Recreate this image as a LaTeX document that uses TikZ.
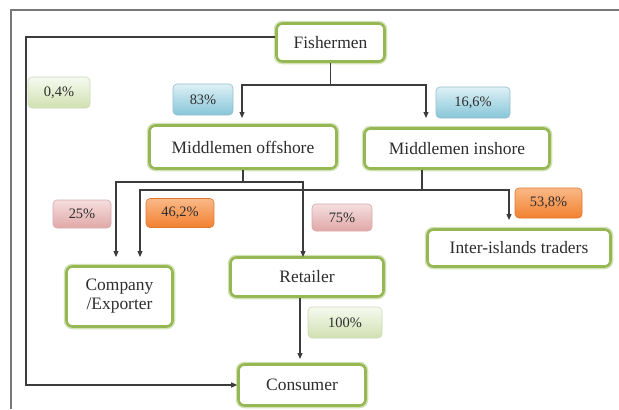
\documentclass[tikz,border=0pt]{standalone}
\usepackage{fontspec}
\setmainfont{Liberation Serif}
\usetikzlibrary{arrows.meta,calc}
\definecolor{gborder}{RGB}{150,184,84}
\definecolor{glow}{RGB}{212,226,184}
\definecolor{txt}{RGB}{45,45,45}
\definecolor{lc}{RGB}{60,60,60}
\definecolor{frame}{RGB}{120,120,120}
\begin{document}
\begin{tikzpicture}[x=1bp,y=-1bp,
  box/.style={draw=gborder, line width=2.6bp, rounded corners=6bp, fill=white, inner sep=0pt,
    font=\fontsize{17.5}{19}\selectfont, text=txt, align=center,
    preaction={draw=glow, line width=5.5bp}},
  pct/.style={rounded corners=4bp, inner sep=0pt, line width=0.6bp,
    font=\fontsize{14.5}{16}\selectfont, text=txt},
  pgreen/.style={pct, top color={rgb,255:red,246;green,250;blue,240}, bottom color={rgb,255:red,208;green,225;blue,176}, draw={rgb,255:red,205;green,215;blue,185}},
  pblue/.style={pct, top color={rgb,255:red,222;green,240;blue,246}, bottom color={rgb,255:red,135;green,198;blue,216}, draw={rgb,255:red,150;green,190;blue,205}},
  ppink/.style={pct, top color={rgb,255:red,245;green,222;blue,222}, bottom color={rgb,255:red,224;green,168;blue,167}, draw={rgb,255:red,215;green,170;blue,170}},
  porange/.style={pct, top color={rgb,255:red,250;green,185;blue,135}, bottom color={rgb,255:red,242;green,128;blue,48}, draw={rgb,255:red,225;green,120;blue,50}},
  conn/.style={draw=lc, line width=1.1bp},
  arr/.style={conn, -{Triangle[length=6bp,width=5bp]}}
]
\useasboundingbox (0,0) rectangle (619,409);
% frame
\draw[frame, line width=1.6bp] (11,409) -- (11,10) -- (619,10);

% main nodes
\node[box, minimum width=108bp, minimum height=38bp] (fish) at (330.5,42.5) {Fishermen};
\node[box, minimum width=187bp, minimum height=43bp] (off) at (243,147) {Middlemen offshore};
\node[box, minimum width=185bp, minimum height=40bp] (ins) at (457,148.5) {Middlemen inshore};
\node[box, minimum width=106bp, minimum height=60bp] (comp) at (119.5,296.5) {Company\\/Exporter};
\node[box, minimum width=153bp, minimum height=39bp] (ret) at (307,277) {Retailer};
\node[box, minimum width=183bp, minimum height=37bp] (isl) at (519,248) {Inter-islands traders};
\node[box, minimum width=127bp, minimum height=41bp] (cons) at (302,385) {Consumer};

% percentage labels
\node[pgreen, minimum width=62bp, minimum height=31bp] (p04) at (59,92.5) {0,4\%};
\node[pblue, minimum width=60bp, minimum height=31bp] (p83) at (203,99.5) {83\%};
\node[pblue, minimum width=74bp, minimum height=31bp] (p166) at (473,102.5) {16,6\%};
\node[ppink, minimum width=58bp, minimum height=28bp] (p25) at (82,214) {25\%};
\node[porange, minimum width=68bp, minimum height=29bp] (p462) at (180,213) {46,2\%};
\node[ppink, minimum width=60bp, minimum height=27bp] (p75) at (342,217.5) {75\%};
\node[porange, minimum width=67bp, minimum height=30bp] (p538) at (548.5,203) {53,8\%};
\node[pgreen, minimum width=74bp, minimum height=31bp] (p100) at (345,322.5) {100\%};

% helper coordinates
\coordinate (lft) at (26,0);
\coordinate (fj) at (330.5,85);
\coordinate (offin) at (242,118);
\coordinate (insin) at (426,118);
\coordinate (oj) at (243,182);
\coordinate (ij) at (422,190);
\coordinate (compa) at (116,257);
\coordinate (compb) at (140,257);
\coordinate (reta) at (303,257);
\coordinate (isla) at (509,220);
\coordinate (consa) at (300,359);

% connectors
\draw[arr] ([yshift=5.5bp]fish.west) -| (lft |- cons.west) -- (cons.west);
\draw[conn] (fish.south) -- (fj);
\draw[arr] (fj) -| (offin);
\draw[arr] (fj) -| (insin);
\draw[conn] (off.south) -- (oj);
\draw[arr] (oj) -| (compa);
\draw[arr] (oj) -| (reta);
\draw[conn] (ins.south -| ij) -- (ij);
\draw[arr] (ij) -| (compb);
\draw[arr] (ij) -| (isla);
\draw[arr] (ret.south -| consa) -- (consa);
\end{tikzpicture}
\end{document}
